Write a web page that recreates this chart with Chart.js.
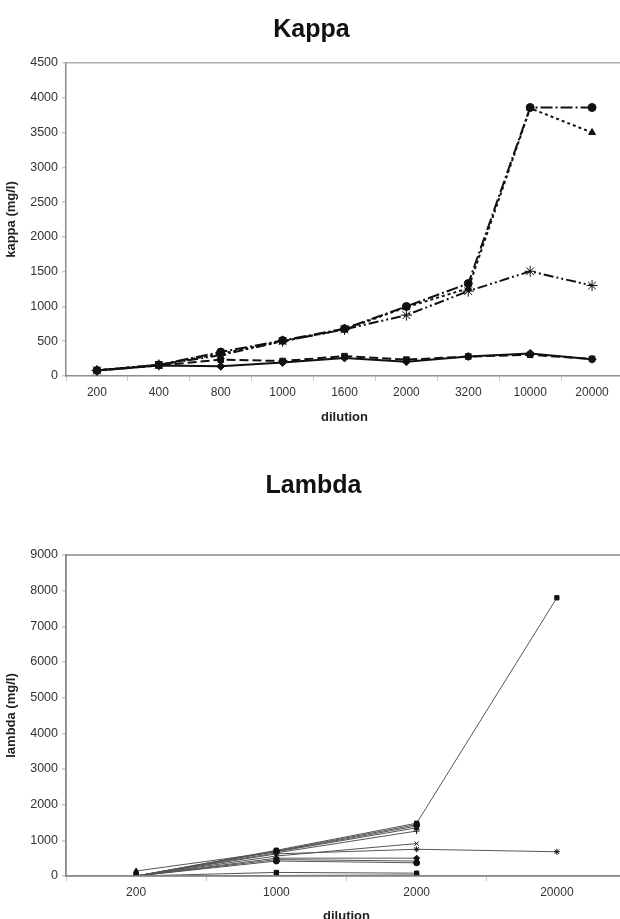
<!DOCTYPE html>
<html>
<head>
<meta charset="utf-8">
<script src="https://cdn.jsdelivr.net/npm/chart.js@4/dist/chart.umd.min.js"></script>
<style>
  body { margin: 0; background: #fff; }
  #wrap { width: 620px; height: 919px; position: relative; overflow: hidden; }
  .box { position: absolute; left: 0; }
</style>
</head>
<body>
<div id="wrap">
  <div class="box" style="top:0;width:623px;height:440px"><canvas id="kappa"></canvas></div>
  <div class="box" style="top:440px;width:627px;height:479px"><canvas id="lambda"></canvas></div>
</div>
<script>
// Kappa data
const kappaDilutions = ["200", "400", "800", "1000", "1600", "2000", "3200", "10000", "20000"];
const kappaCircle   = [80, 160, 345, 510, 680, 1000, 1330, 3860, 3860];
const kappaTriangle = [80, 160, 320, 500, 670, 990, 1260, 3850, 3500];
const kappaStar     = [80, 160, 300, 500, 670, 875, 1220, 1505, 1300];
const kappaSquare   = [80, 150, 235, 215, 285, 235, 280, 305, 245];
const kappaDiamond  = [80, 150, 140, 195, 260, 205, 280, 325, 240];

// Lambda data
const lambdaDilutions = ["200", "1000", "2000", "20000"];
const lambda1  = [0, 720, 1480, 7800];
const lambda2  = [0, 620, 750, 680];
const lambda3  = [0, 700, 1440, null];
const lambda4  = [0, 690, 1400, null];
const lambda5  = [140, 680, 1350, null];
const lambda6  = [0, 650, 1260, null];
const lambda7  = [0, 560, 910, null];
const lambda8  = [0, 500, 500, null];
const lambda9  = [0, 460, 420, null];
const lambda10 = [0, 420, 370, null];
const lambda11 = [0, 100, 80, null];
const lambda12 = [0, 15, 30, null];

const font = "'Liberation Sans', Arial, sans-serif";

// draws grey frame round the plot area
const frame = {
  id: "frame",
  afterDraw(chart, args, opts) {
    if (!opts.on) return;
    const a = chart.chartArea, c = chart.ctx;
    c.save();
    c.strokeStyle = "#8c8c8c";
    c.lineWidth = 1.5;
    c.strokeRect(a.left, a.top, a.right - a.left, a.bottom - a.top);
    c.restore();
  }
};

function axes(yTitle, max, step, yWidth, xHeight, titlePad, topLine) {
  return {
    x: {
      offset: true,
      border: { color: "#8c8c8c", width: 1.5 },
      grid: { offset: true, drawOnChartArea: false, drawTicks: true, tickLength: 5, color: "#c8c8c8" },
      ticks: { color: "#333", font: { family: font, size: 12 }, padding: 4, maxRotation: 0 },
      title: { display: true, text: "dilution", color: "#222", font: { family: font, size: 13, weight: "bold" }, padding: titlePad },
      afterFit: s => { s.height = xHeight; s.paddingLeft = 0; s.paddingRight = 0; }
    },
    y: {
      min: 0, max: max,
      border: { color: "#8c8c8c", width: 1.5 },
      grid: {
        drawTicks: true,
        tickLength: 4,
        tickColor: "#c8c8c8",
        color: ctx => (topLine && ctx.tick && ctx.tick.value === max) ? "#b0b0b0" : "transparent",
        lineWidth: 1.5
      },
      ticks: { stepSize: step, color: "#333", font: { family: font, size: 12.5 }, padding: 4, callback: v => String(v) },
      title: { display: true, text: yTitle, color: "#222", font: { family: font, size: 13, weight: "bold" } },
      afterFit: s => { s.width = yWidth; }
    }
  };
}

function kappaSet(data, style, dash) {
  return {
    data: data,
    borderColor: "#111",
    backgroundColor: "#111",
    borderWidth: 2,
    borderDash: dash,
    pointStyle: style,
    pointRadius: style === "star" ? 5.5 : 4,
    pointBorderColor: "#111",
    pointBackgroundColor: "#111",
    pointBorderWidth: 1,
    tension: 0
  };
}

new Chart(document.getElementById("kappa"), {
  type: "line",
  data: {
    labels: kappaDilutions,
    datasets: [
      kappaSet(kappaDiamond, "rectRot", []),
      kappaSet(kappaSquare, "rect", [9, 4]),
      kappaSet(kappaStar, "star", [10, 3, 2, 3, 2, 3]),
      kappaSet(kappaTriangle, "triangle", [3, 3]),
      kappaSet(kappaCircle, "circle", [12, 3, 2, 3])
    ]
  },
  options: {
    responsive: true,
    maintainAspectRatio: false,
    animation: false,
    layout: { autoPadding: false, padding: { left: 0, right: 0, top: 0, bottom: 15 } },
    plugins: {
      legend: { display: false },
      tooltip: { enabled: false },
      title: { display: true, text: "Kappa", color: "#111", font: { family: font, size: 25, weight: "bold" }, padding: { top: 15, bottom: 18 } },
      frame: { on: false }
    },
    scales: axes("kappa (mg/l)", 4500, 500, 66, 49, { top: 0, bottom: 0 }, true)
  },
  plugins: [frame]
});

const lambdaStyles = ["rect", "star", "circle", "rectRot", "triangle", "cross", "crossRot", "rectRot", "triangle", "circle", "rect", "rect"];
const lambdaData = [lambda1, lambda2, lambda3, lambda4, lambda5, lambda6, lambda7, lambda8, lambda9, lambda10, lambda11, lambda12];

new Chart(document.getElementById("lambda"), {
  type: "line",
  data: {
    labels: lambdaDilutions,
    datasets: lambdaData.map((d, i) => ({
      data: d,
      borderColor: "#555",
      borderWidth: 1,
      pointStyle: lambdaStyles[i],
      pointRadius: 3,
      pointBorderColor: "#111",
      pointBackgroundColor: "#111",
      pointBorderWidth: 1,
      tension: 0
    }))
  },
  options: {
    responsive: true,
    maintainAspectRatio: false,
    animation: false,
    layout: { autoPadding: false, padding: { left: 0, right: 0, top: 0, bottom: 0 } },
    plugins: {
      legend: { display: false },
      tooltip: { enabled: false },
      title: { display: true, text: "Lambda", color: "#111", font: { family: font, size: 25, weight: "bold" }, padding: { top: 31, bottom: 54 } },
      frame: { on: true }
    },
    scales: axes("lambda (mg/l)", 9000, 1000, 66, 43, { top: 0, bottom: -5 }, false)
  },
  plugins: [frame]
});
</script>
</body>
</html>
